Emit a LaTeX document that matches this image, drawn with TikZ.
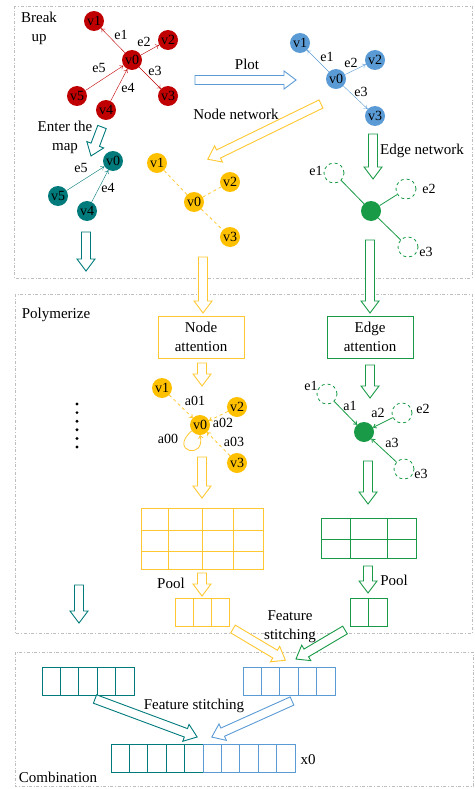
\documentclass[tikz,border=0pt]{standalone}
\usepackage{fontspec}
\setmainfont{Liberation Serif}
\usetikzlibrary{arrows.meta,calc}
\definecolor{cred}{RGB}{192,0,0}
\definecolor{cblue}{RGB}{91,155,213}
\definecolor{cteal}{RGB}{0,122,122}
\definecolor{cyel}{RGB}{255,192,0}
\definecolor{cyl}{RGB}{255,200,50}
\definecolor{cgreen}{RGB}{24,154,70}
\definecolor{cframe}{RGB}{190,190,190}
\newcommand\harrow[5]{\begin{scope}[shift={(#2,#3)},rotate=#4]
\draw[#1,line width=0.9pt,fill=white,line join=miter] (0,-4.5) -- ({#5-12},-4.5) -- ({#5-12},-9) -- (#5,0) -- ({#5-12},9) -- ({#5-12},4.5) -- (0,4.5) -- cycle;
\end{scope}}
\newcommand\cellrow[6]{% color, x0, y0, cellw, h, n
\foreach \i in {1,...,#6}{\draw[#1,line width=0.9pt] ({#2+(\i-1)*#4},#3) rectangle ({#2+\i*#4},{#3+#5});}}
\begin{document}
\begin{tikzpicture}[x=1pt,y=-1pt,font=\fontsize{15}{19}\selectfont,
 vn/.style={circle,inner sep=0pt,minimum size=20pt,font=\fontsize{14}{14}\selectfont},
 dn/.style={circle,inner sep=0pt,minimum size=20pt,draw=cgreen,dashed,line width=0.8pt},
 lbl/.style={inner sep=0pt,font=\fontsize{14}{14}\selectfont},
 frame/.style={draw=cframe,dash dot,line width=0.8pt},
 tip/.style={-{To[length=3.5pt,width=5pt]}},
 attbox/.style={minimum width=86pt,minimum height=42pt,align=center,line width=0.9pt},
 ]
\useasboundingbox (0,0) rectangle (474,789);
% frames
\draw[frame] (14,6) rectangle (472,278);
\draw[frame] (15,294) rectangle (472,633);
\draw[frame] (15,652) rectangle (473,786);
% ---- Break up (red)
\node[align=center] (tbreak) at (39,28) {Break\\up};
\node[vn,fill=cred] (r1) at (94,21) {v1};
\node[vn,fill=cred] (r2) at (168,40) {v2};
\node[vn,fill=cred] (r0) at (132,60) {v0};
\node[vn,fill=cred] (r3) at (168,96) {v3};
\node[vn,fill=cred] (r5) at (77,96) {v5};
\node[vn,fill=cred] (r4) at (106,110) {v4};
\draw[cred,tip] (r0) -- (r1);
\draw[cred,tip] (r0) -- (r2);
\draw[cred,tip] (r0) -- (r3);
\draw[cred,tip] (r5) -- (r0);
\draw[cred,tip] (r4) -- (r0);
\node[lbl] (le1) at (121,35) {e1};
\node[lbl] (le2) at (144,42) {e2};
\node[lbl] (le3) at (155,71) {e3};
\node[lbl] (le5) at (99,68) {e5};
\node[lbl] (le4) at (128,88) {e4};
% ---- teal
\node[align=center] (tenter) at (65,137) {Enter the\\map};
\harrow{cteal}{102}{127}{-110.8}{31}
\node[vn,fill=cteal] (t0) at (113,161) {v0};
\node[vn,fill=cteal] (t5) at (58,196) {v5};
\node[vn,fill=cteal] (t4) at (87,211) {v4};
\draw[cteal,tip] (t5) -- (t0);
\draw[cteal,tip] (t4) -- (t0);
\node[lbl] (lt5) at (81,168) {e5};
\node[lbl] (lt4) at (108,188) {e4};
\harrow{cteal}{86}{232}{-90}{39}
% ---- Plot (blue)
\harrow{cblue}{195}{80}{0}{101}
\node (tplot) at (247,64) {Plot};
\node[vn,fill=cblue] (b1) at (300,43) {v1};
\node[vn,fill=cblue] (b2) at (375,60) {v2};
\node[vn,fill=cblue] (b0) at (336,79) {v0};
\node[vn,fill=cblue] (b3) at (375,116) {v3};
\draw[cblue,tip] (b0) -- (b1);
\draw[cblue,tip] (b0) -- (b2);
\draw[cblue,tip] (b0) -- (b3);
\node[lbl] (lb1) at (327,57) {e1};
\node[lbl] (lb2) at (351,63) {e2};
\node[lbl] (lb3) at (361,92) {e3};
% ---- node network (yellow)
\harrow{cyl}{321}{104}{-154}{126}
\node (tnn) at (236,114) {Node network};
\node[vn,fill=cyel] (y1) at (157,163) {v1};
\node[vn,fill=cyel] (y0) at (194,202) {v0};
\node[vn,fill=cyel] (y2) at (230,182) {v2};
\node[vn,fill=cyel] (y3) at (230,237) {v3};
\draw[cyl,dashed,line width=0.8pt] (y0) -- (y1);
\draw[cyl,dashed,line width=0.8pt] (y0) -- (y2);
\draw[cyl,dashed,line width=0.8pt] (y0) -- (y3);
\harrow{cyl}{203}{257}{-90}{56}
% ---- edge network (green)
\harrow{cgreen}{373}{134}{-90}{45}
\node (ten) at (422,151) {Edge network};
\node[vn,fill=cgreen] (g0) at (371,211) {};
\node[dn] (g1) at (334,173) {};
\node[dn] (g2) at (406,189) {};
\node[dn] (g3) at (408,247) {};
\draw[cgreen,line width=0.8pt] (g0) -- (g1);
\draw[cgreen,line width=0.8pt] (g0) -- (g2);
\draw[cgreen,line width=0.8pt] (g0) -- (g3);
\node[lbl] (lg1) at (316,171) {e1};
\node[lbl] (lg2) at (429,189) {e2};
\node[lbl] (lg3) at (426,252) {e3};
\harrow{cgreen}{370}{240}{-90}{73}
% ---- Polymerize
\node (tpoly) at (56,315) {Polymerize};
\node[draw=cyl,attbox] (natt) at (201,337) {Node\\attention};
\node[draw=cgreen,attbox] (eatt) at (370,337) {Edge\\attention};
\harrow{cyl}{202}{363}{-90}{23}
\harrow{cgreen}{370}{365}{-90}{33}
% node attention graph
\node[vn,fill=cyel] (n1) at (162,388) {v1};
\node[vn,fill=cyel] (n2) at (237,407) {v2};
\node[vn,fill=cyel] (n0) at (200,425) {v0};
\node[vn,fill=cyel] (n3) at (237,463) {v3};
\draw[cyl,dashed,line width=0.8pt,tip] (n1) -- (n0);
\draw[cyl,dashed,line width=0.8pt,tip] (n2) -- (n0);
\draw[cyl,dashed,line width=0.8pt,tip] (n3) -- (n0);
\draw[cyl,line width=0.8pt,tip] (n0.215) .. controls (168,452) and (206,460) .. (n0.270);
\node[lbl] (la01) at (195,401) {a01};
\node[lbl] (la02) at (223,423) {a02};
\node[lbl] (la03) at (234,442) {a03};
\node[lbl] (la00) at (168,439) {a00};
% dots
\foreach \k in {0,...,5}{\fill (77,{404+\k*8.6}) circle (1.6);}
% edge attention graph
\node[vn,fill=cgreen] (m0) at (364,432) {};
\node[dn] (m1) at (327,394) {};
\node[dn] (m2) at (402,413) {};
\node[dn] (m3) at (404,469) {};
\draw[cgreen,line width=0.8pt,tip] (m1) -- (m0);
\draw[cgreen,line width=0.8pt,tip] (m2) -- (m0);
\draw[cgreen,line width=0.8pt,tip] (m3) -- (m0);
\node[lbl] (lm1) at (311,386) {e1};
\node[lbl] (lm2) at (423,409) {e2};
\node[lbl] (lm3) at (421,474) {e3};
\node[lbl] (la1) at (350,406) {a1};
\node[lbl] (la2) at (378,413) {a2};
\node[lbl] (la3) at (392,443) {a3};
\harrow{cyl}{202}{457}{-90}{41}
\harrow{cgreen}{368}{461}{-90}{43}
% tables
\draw[cyl,line width=0.9pt] (141,508) rectangle (263,569);
\foreach \xx in {168,202,233}{\draw[cyl,line width=0.9pt] (\xx,508) -- (\xx,569);}
\foreach \yy in {530,551}{\draw[cyl,line width=0.9pt] (141,\yy) -- (263,\yy);}
\draw[cgreen,line width=0.9pt] (321,518) rectangle (416,558);
\foreach \xx in {350,387}{\draw[cgreen,line width=0.9pt] (\xx,518) -- (\xx,558);}
\draw[cgreen,line width=0.9pt] (321,539) -- (416,539);
\harrow{cyl}{202}{573}{-90}{23}
\harrow{cgreen}{368}{566}{-90}{27}
\node (tpool1) at (171,583) {Pool};
\node (tpool2) at (394,580) {Pool};
\cellrow{cyl}{175}{598}{18}{28}{3}
\cellrow{cgreen}{350}{598}{18.5}{28}{2}
\harrow{cteal}{79}{585}{-90}{38}
% feature stitching
\harrow{cyl}{233}{629}{-30.8}{61}
\harrow{cgreen}{345}{630}{-149.4}{57}
\node[align=center] (tfs1) at (290,627) {Feature\\stitching};
% combination
\cellrow{cteal}{42}{667}{18.4}{28}{5}
\cellrow{cblue}{243}{667}{18.4}{28}{5}
\harrow{cteal}{95}{699}{-20.4}{109}
\harrow{cblue}{292}{701}{-155.8}{88}
\node (tfs2) at (194,706) {Feature stitching};
\cellrow{cteal}{111}{744}{18.4}{28}{5}
\cellrow{cblue}{203}{744}{18.4}{28}{5}
\node (tx0) at (308,760) {x0};
\node (tcomb) at (58,777) {Combination};
\end{tikzpicture}
\end{document}
